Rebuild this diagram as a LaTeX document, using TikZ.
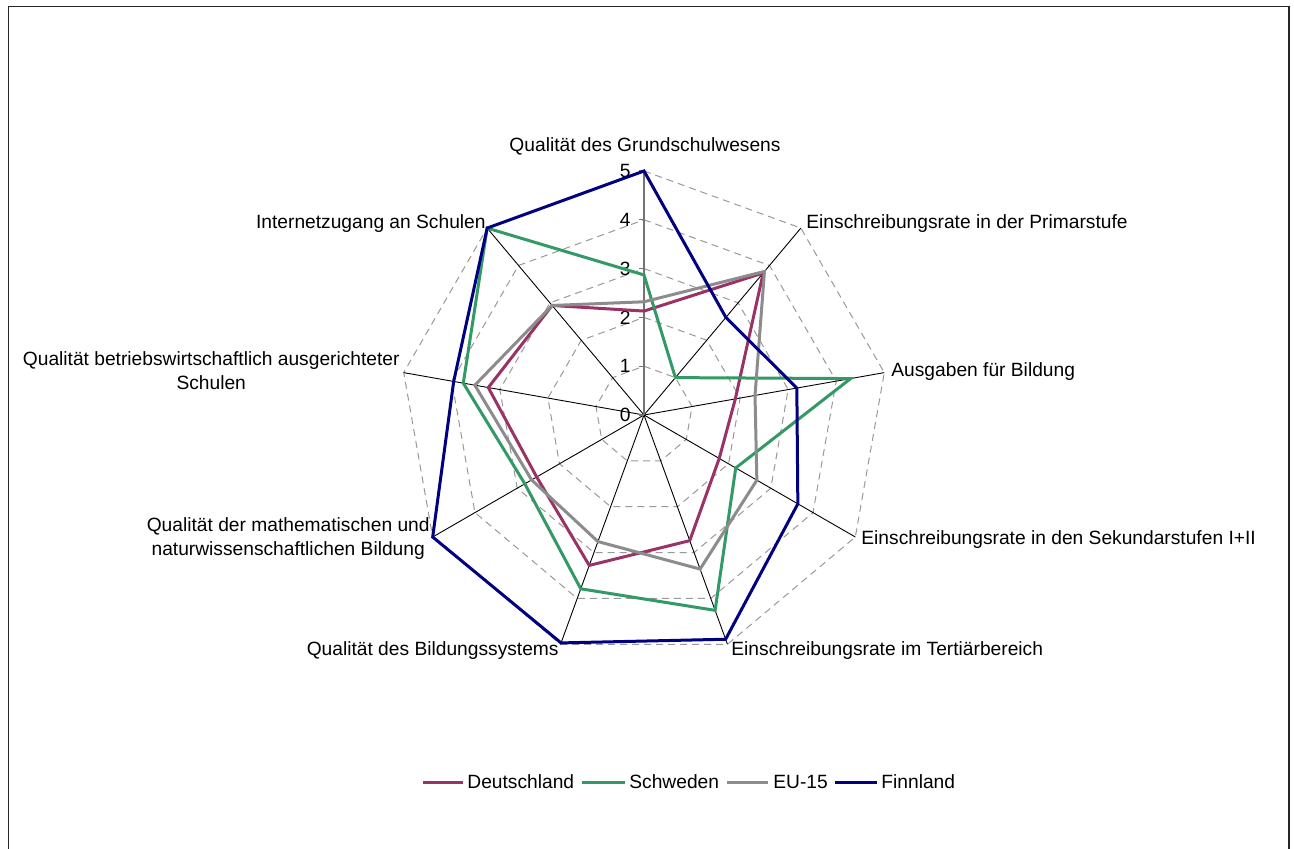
\documentclass[tikz,border=0pt]{standalone}
\usepackage{fontspec}
\setmainfont{Liberation Sans}
\definecolor{cDE}{HTML}{993366}
\definecolor{cSE}{HTML}{339966}
\definecolor{cEU}{HTML}{8C8C8C}
\definecolor{cFI}{HTML}{000080}
\definecolor{ringcol}{HTML}{999999}
\tikzset{
  ring/.style={ringcol, line width=0.5pt, dash pattern=on 3.5pt off 2.5pt},
  spoke/.style={black, line width=0.45pt},
  valaxis/.style={black!55, line width=0.6pt},
  serie/.style={line width=1.5pt, line join=miter},
  lbl/.style={inner sep=0pt, text=black},
  frameline/.style={line width=0.9pt, black!85}
}
\newcommand\Uval{48.8}
\newcommand\drawserie[3]{%
  \foreach \v [count=\i from 0] in {#3} {\coordinate (#1\i) at (90-40*\i:\v*\Uval);}
  \draw[serie,#2] (#10) -- (#11) -- (#12) -- (#13) -- (#14) -- (#15) -- (#16) -- (#17) -- (#18) -- cycle;
}
\begin{document}
\begin{tikzpicture}[x=0.5pt,y=0.5pt,font=\fontsize{9.6}{12}\selectfont]
\useasboundingbox (0,0) rectangle (1294,848);
\fill[white] (0,0) rectangle (1294,848);
\draw[frameline] (8.5,-20) rectangle (1289,841.5);

\begin{scope}[shift={(644,433)}]
  % rings
  \foreach \k in {1,...,5} {
    \draw[ring] (90:\k*\Uval) -- (50:\k*\Uval) -- (10:\k*\Uval) -- (-30:\k*\Uval) -- (-70:\k*\Uval) -- (-110:\k*\Uval) -- (-150:\k*\Uval) -- (170:\k*\Uval) -- (130:\k*\Uval) -- cycle;
  }
  % spokes
  \coordinate (O) at (0,0);
  \foreach \i in {0,...,8} {\coordinate (ax\i) at (90-40*\i:5*\Uval);}
  \foreach \i in {1,...,8} {\draw[spoke] (O) -- (ax\i);}
  \draw[valaxis] (O) -- (ax0);
  % value labels and ticks
  \foreach \k in {0,...,5} {
    \coordinate (tk\k) at (0,\k*\Uval);
    \coordinate (tl\k) at (-5,\k*\Uval);
    \draw[valaxis] (tl\k) -- (tk\k);
    \node[lbl,anchor=east] (tv\k) at (-13,\k*\Uval) {\k};
  }
  % series
  \drawserie{de}{cDE}{2.13,3.8,1.9,1.78,2.74,3.28,2.54,3.24,2.93}
  \drawserie{se}{cSE}{2.87,1.0,4.3,2.17,4.26,3.79,2.82,3.76,5}
  \drawserie{eu}{cEU}{2.32,3.84,2.31,2.67,3.36,2.76,2.66,3.52,2.93}
  \drawserie{fi}{cFI}{5,2.61,3.18,3.64,4.89,4.97,5,3.96,5}
\end{scope}

% category labels
\node[lbl,anchor=center] (c0) at (645,702) {Qualität des Grundschulwesens};
\node[lbl,anchor=west] (c1) at (806,624) {Einschreibungsrate in der Primarstufe};
\node[lbl,anchor=west] (c2) at (891,476) {Ausgaben für Bildung};
\node[lbl,anchor=west] (c3) at (861,308) {Einschreibungsrate in den Sekundarstufen I+II};
\node[lbl,anchor=west] (c4) at (731,197) {Einschreibungsrate im Tertiärbereich};
\node[lbl,anchor=east] (c5) at (559,197) {Qualität des Bildungssystems};
\node[lbl,anchor=east,align=center] (c6) at (430,309) {Qualität der mathematischen und\\naturwissenschaftlichen Bildung};
\node[lbl,anchor=east,align=center] (c7) at (400,477) {Qualität betriebswirtschaftlich ausgerichteter\\Schulen};
\node[lbl,anchor=east] (c8) at (486,624) {Internetzugang an Schulen};

% legend
\node[lbl,anchor=west] (lg1) at (467,66) {Deutschland};
\node[lbl,anchor=west] (lg2) at (629,66) {Schweden};
\node[lbl,anchor=west] (lg3) at (773,66) {EU-15};
\node[lbl,anchor=west] (lg4) at (881,66) {Finnland};
\coordinate (ls1) at (423,66); \coordinate (le1) at (463,66);
\coordinate (ls2) at (582,66); \coordinate (le2) at (625,66);
\coordinate (ls3) at (727,66); \coordinate (le3) at (768,66);
\coordinate (ls4) at (835,66); \coordinate (le4) at (877,66);
\draw[serie,cDE] (ls1) -- (le1);
\draw[serie,cSE] (ls2) -- (le2);
\draw[serie,cEU] (ls3) -- (le3);
\draw[serie,cFI] (ls4) -- (le4);
\end{tikzpicture}
\end{document}
